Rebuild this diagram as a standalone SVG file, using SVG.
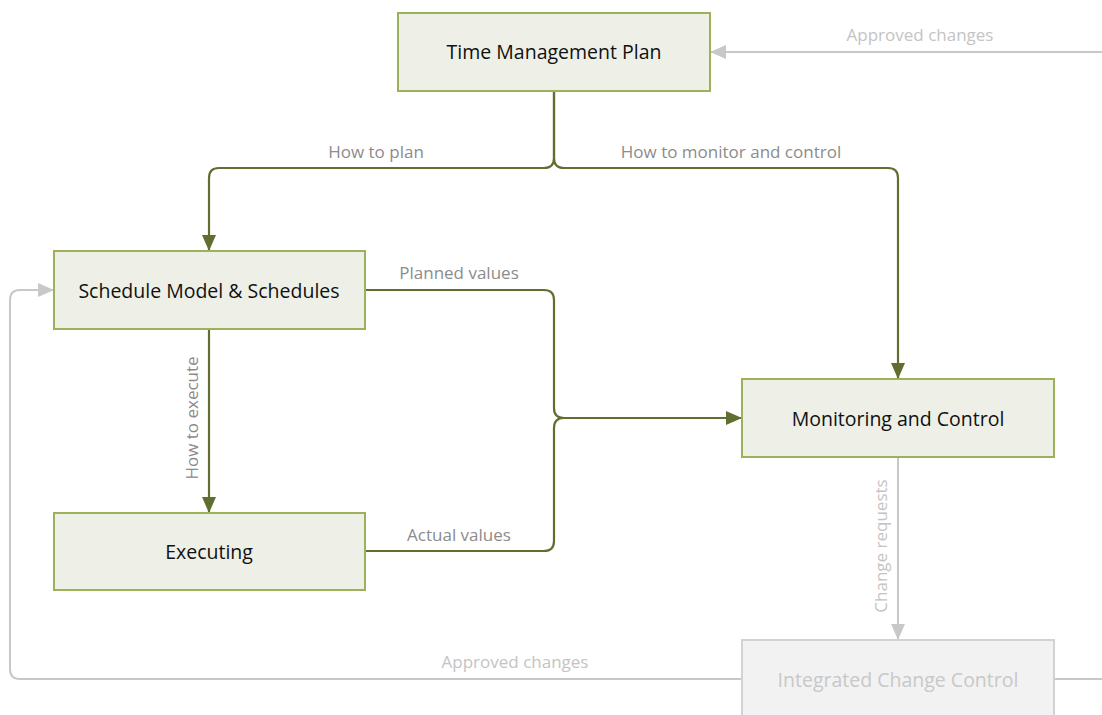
<svg xmlns="http://www.w3.org/2000/svg" width="1102" height="715" viewBox="0 0 1102 715">
<style>
.node rect{fill:#eef0e7;stroke:#9bb25a;stroke-width:2}
.node text{font-family:"Open Sans","Liberation Sans",sans-serif;font-size:19.5px;fill:#111;text-anchor:middle;dominant-baseline:central}
.node.dim rect{fill:#f2f2f2;stroke:#d2d2d2}
.node.dim text{fill:#c8c8c8}
.c{fill:none;stroke:#606f30;stroke-width:2.2}
.g{fill:none;stroke:#c8c8c8;stroke-width:2}
.lbl{font-family:"Open Sans","Liberation Sans",sans-serif;font-size:17px;fill:#8c8c8c;text-anchor:middle}
.lbl.dim{fill:#c4c4c4}
</style>
<defs>
<marker id="ah" markerUnits="userSpaceOnUse" markerWidth="16" markerHeight="14" refX="15" refY="7" orient="auto"><path d="M0,0 L16,7 L0,14 Z" fill="#606f30"/></marker>
<marker id="ahg" markerUnits="userSpaceOnUse" markerWidth="16" markerHeight="14" refX="15" refY="7" orient="auto"><path d="M0,0 L16,7 L0,14 Z" fill="#c8c8c8"/></marker>
</defs>
<g id="connectors">
<path class="c" d="M554,91 V158 Q554,168 544,168 H219 Q209,168 209,178 V250" marker-end="url(#ah)"/>
<path class="c" d="M554,91 V158 Q554,168 564,168 H888 Q898,168 898,178 V378" marker-end="url(#ah)"/>
<path class="c" d="M365,290 H544 Q554,290 554,300 V408 Q554,418 564,418 H741" marker-end="url(#ah)"/>
<path class="c" d="M365,551 H544 Q554,551 554,541 V428 Q554,418 564,418"/>
<path class="c" d="M209,329 V512" marker-end="url(#ah)"/>
<path class="g" d="M898,457 V639" marker-end="url(#ahg)"/>
<path class="g" d="M742,679 H20 Q10,679 10,669 V300 Q10,290 20,290 H53" marker-end="url(#ahg)"/>
<path class="g" d="M1054,679 H1102"/>
<path class="g" d="M1102,52 H711" marker-end="url(#ahg)"/>
<text class="lbl" x="376" y="158">How to plan</text>
<text class="lbl" x="731" y="158">How to monitor and control</text>
<text class="lbl" x="459" y="279">Planned values</text>
<text class="lbl" x="459" y="541">Actual values</text>
<text class="lbl" transform="translate(198,418) rotate(-90)">How to execute</text>
<text class="lbl dim" transform="translate(887,546) rotate(-90)">Change requests</text>
<text class="lbl dim" x="515" y="668">Approved changes</text>
<text class="lbl dim" x="920" y="41">Approved changes</text>
</g>
<g id="time-management-plan" class="node"><rect x="398" y="13" width="312" height="78"/><text x="554" y="51">Time Management Plan</text></g>
<g id="schedule-model" class="node"><rect x="54" y="251" width="311" height="78"/><text x="209" y="290">Schedule Model &amp; Schedules</text></g>
<g id="executing" class="node"><rect x="54" y="513" width="311" height="77"/><text x="209" y="551">Executing</text></g>
<g id="monitoring-control" class="node"><rect x="742" y="379" width="312" height="78"/><text x="898" y="418">Monitoring and Control</text></g>
<g id="integrated-change-control" class="node dim"><rect x="742" y="640" width="312" height="80"/><text x="898" y="679">Integrated Change Control</text></g>
</svg>
